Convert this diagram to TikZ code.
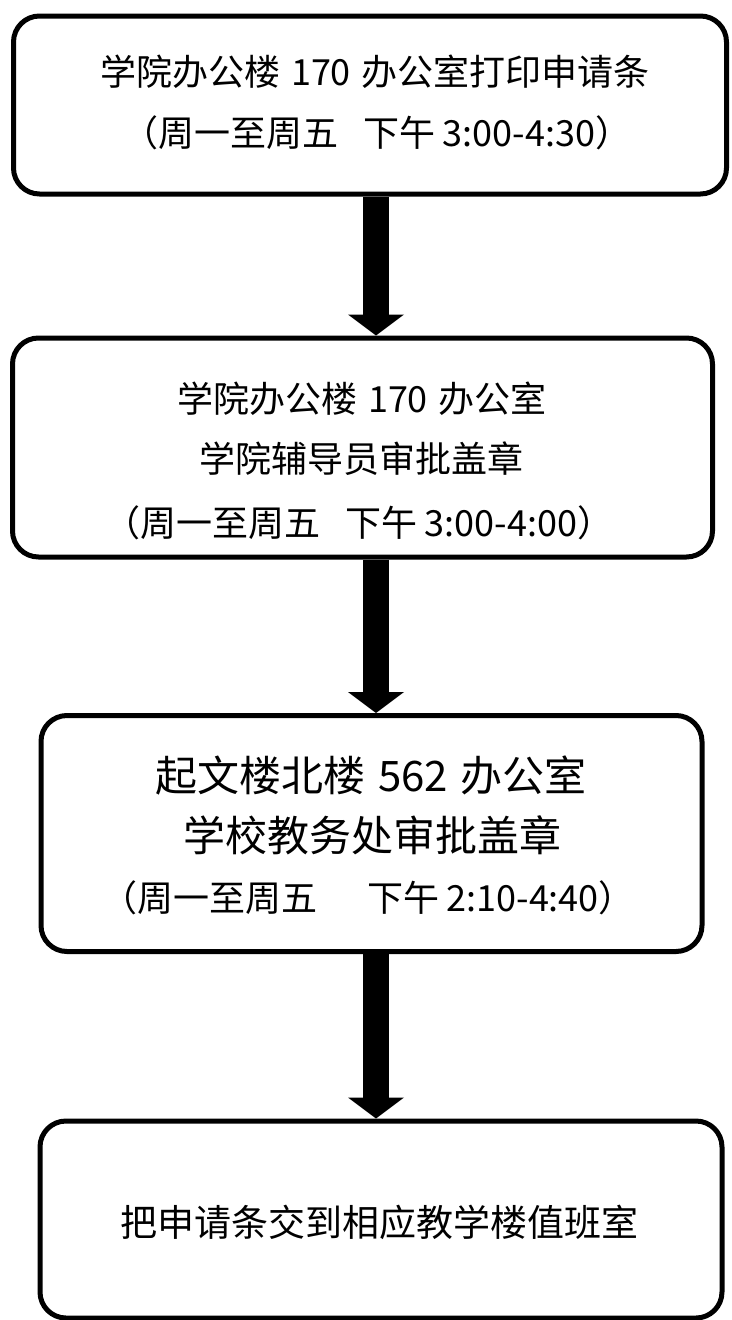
\documentclass[tikz,border=0pt]{standalone}
\usepackage{fontspec}
\setmainfont{Noto Sans CJK SC}
\usetikzlibrary{arrows.meta}
\tikzset{
  box/.style={draw=black, line width=5pt, rounded corners=26pt, fill=white, inner sep=0pt},
  txt/.style={inner sep=0pt, anchor=center},
  flow/.style={line width=26pt, -{Triangle[length=21pt, width=56pt, line width=0pt]}}
}
\begin{document}
\begin{tikzpicture}[x=1pt, y=-1pt]
\useasboundingbox (0,0) rectangle (731,1320);
% boxes (outlines via named corner coordinates)
\coordinate (ax) at (376,0);
\node[box, minimum width=713pt, minimum height=178pt] (b1) at (370,105) {};
\node[box, minimum width=700pt, minimum height=219pt] (b2) at (362.5,447.5) {};
\node[box, minimum width=661pt, minimum height=236pt] (b3) at (371.5,833.5) {};
\node[box, minimum width=682pt, minimum height=197pt] (b4) at (381,1219.5) {};
% arrows
\draw[flow] (b1.south -| ax) -- (b2.north -| ax);
\draw[flow] (b2.south -| ax) -- (b3.north -| ax);
\draw[flow] (b3.south -| ax) -- (b4.north -| ax);
% texts
\node[txt, font=\fontsize{36pt}{40pt}\selectfont] (t1a) at (375,72) {学院办公楼\hspace{0.3em}170\hspace{0.3em}办公室打印申请条};
\node[txt, font=\fontsize{36pt}{40pt}\selectfont] (t1b) at (377,133) {（周一至周五\hspace{0.7em}下午\hspace{0.2em}3:00-4:30）};
\node[txt, font=\fontsize{36pt}{40pt}\selectfont] (t2a) at (362,399) {学院办公楼\hspace{0.3em}170\hspace{0.3em}办公室};
\node[txt, font=\fontsize{36pt}{40pt}\selectfont] (t2b) at (361,459) {学院辅导员审批盖章};
\node[txt, font=\fontsize{36pt}{40pt}\selectfont] (t2c) at (359,523) {（周一至周五\hspace{0.7em}下午\hspace{0.2em}3:00-4:00）};
\node[txt, font=\fontsize{42pt}{46pt}\selectfont] (t3a) at (371,775) {起文楼北楼\hspace{0.3em}562\hspace{0.3em}办公室};
\node[txt, font=\fontsize{42pt}{46pt}\selectfont] (t3b) at (372,835) {学校教务处审批盖章};
\node[txt, font=\fontsize{36pt}{40pt}\selectfont] (t3c) at (368,898) {（周一至周五\hspace{1.4em}下午\hspace{0.2em}2:10-4:40）};
\node[txt, font=\fontsize{37pt}{41pt}\selectfont] (t4) at (379,1222) {把申请条交到相应教学楼值班室};
\end{tikzpicture}
\end{document}
